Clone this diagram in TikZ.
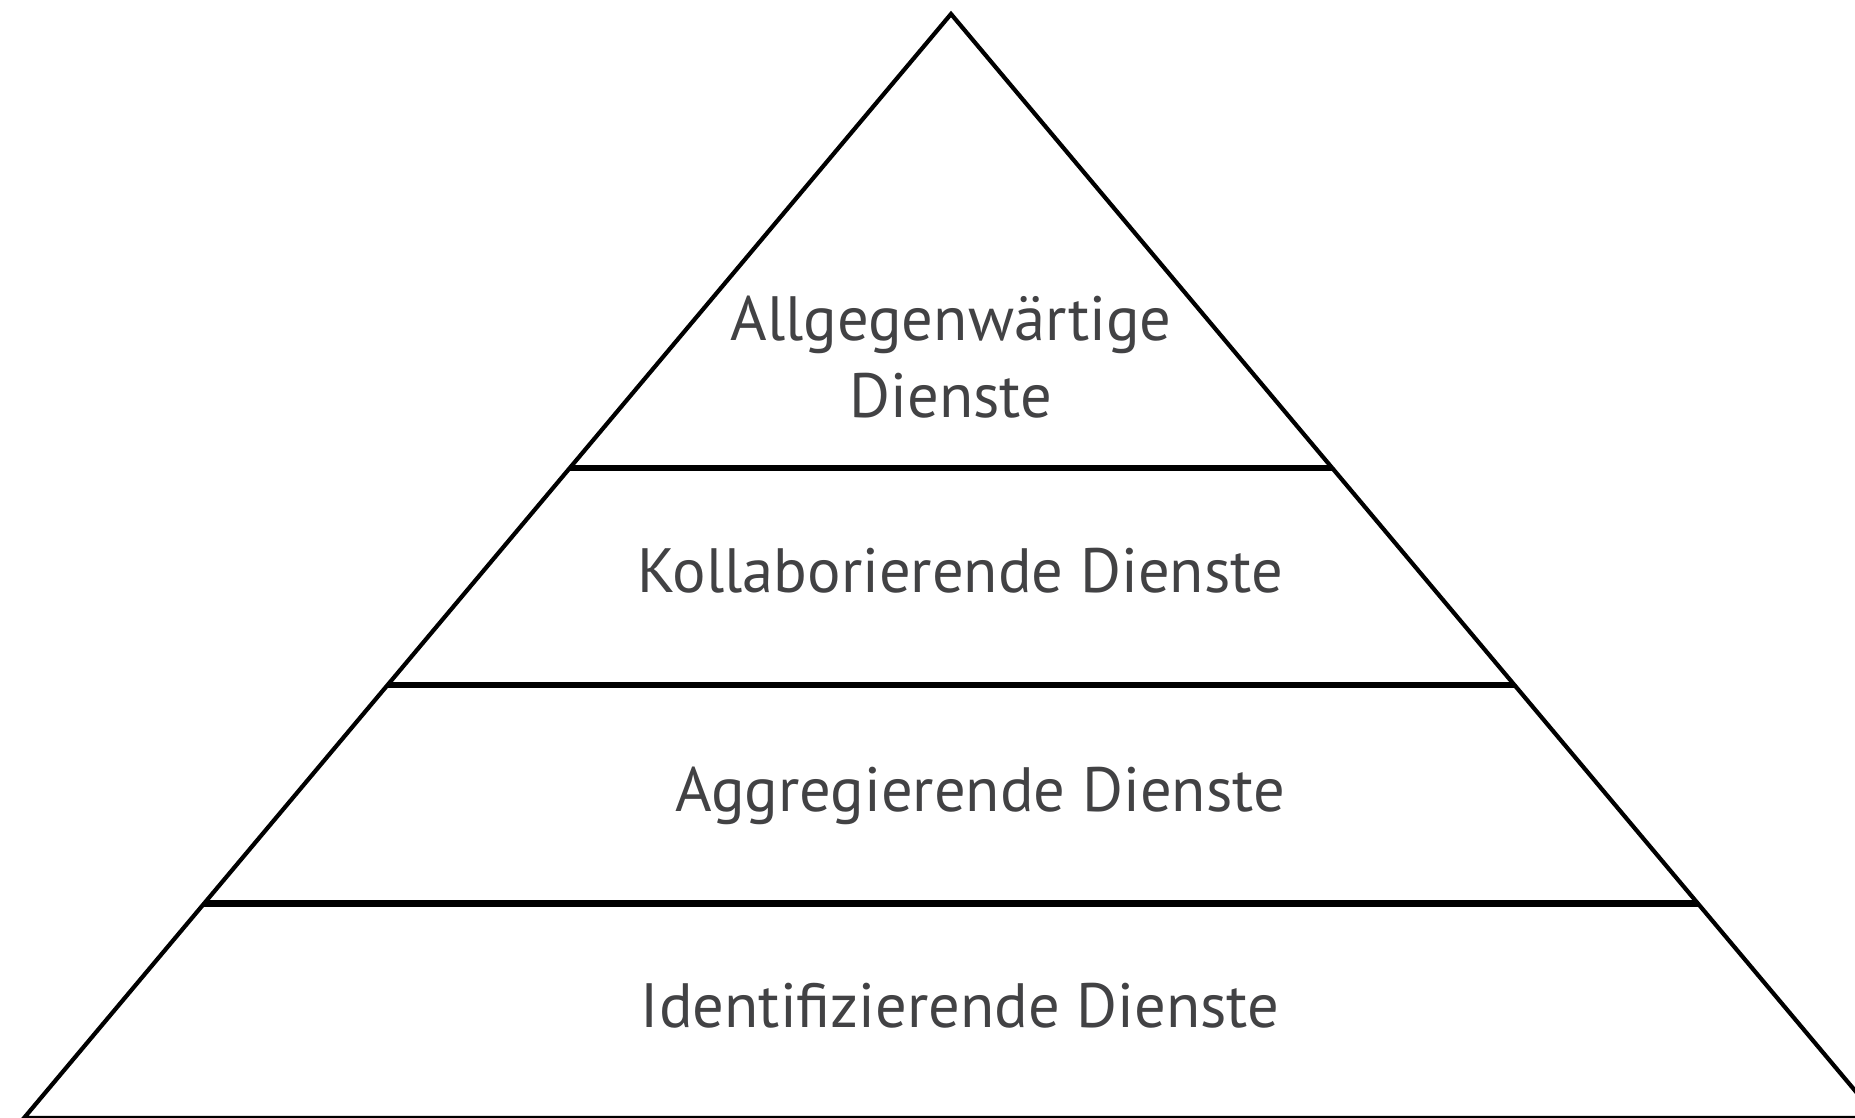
\documentclass[tikz,border=0pt]{standalone}
\usepackage{fontspec}
\setmainfont{PT Sans}
\usetikzlibrary{calc}
\definecolor{labelgray}{RGB}{66,66,68}
\tikzset{
  edge/.style={draw=black, line width=4.2pt, line join=miter},
  tier/.style={draw=black, line width=6.5pt},
  label/.style={text=labelgray, font=\fontsize{62.6}{77}\selectfont, anchor=base, inner sep=0pt, align=center}
}
\begin{document}
\begin{tikzpicture}[x=1pt,y=-1pt]
\useasboundingbox (0,0) rectangle (1855,1118);
\fill[white] (0,0) rectangle (1855,1118);
\clip (0,0) rectangle (1855,1118);
\coordinate (apex) at (951,14);
\coordinate (bl) at (24,1118);
\coordinate (br) at (1878,1118);
\draw[edge] (apex) -- (br) -- (bl) -- cycle;
\coordinate (l1) at ($(apex)!0.4114!(bl)$);
\coordinate (r1) at ($(apex)!0.4114!(br)$);
\coordinate (l2) at ($(apex)!0.6076!(bl)$);
\coordinate (r2) at ($(apex)!0.6076!(br)$);
\coordinate (l3) at ($(apex)!0.8056!(bl)$);
\coordinate (r3) at ($(apex)!0.8056!(br)$);
\draw[tier] (l1) -- (r1);
\draw[tier] (l2) -- (r2);
\draw[tier] (l3) -- (r3);
\node[label] (t1) at (951,417) {Allgegenwärtige\\Dienste};
\node[label] (t2) at (960,592) {Kollaborierende Dienste};
\node[label] (t3) at (980,811) {Aggregierende Dienste};
\node[label] (t4) at (960,1027) {Identifizierende Dienste};
\end{tikzpicture}
\end{document}
